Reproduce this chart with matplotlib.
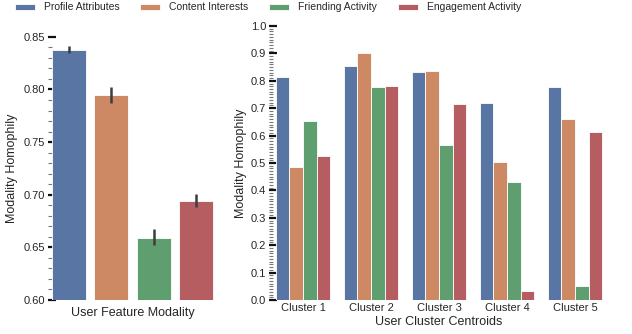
import colorsys
import numpy as np
import matplotlib
matplotlib.use("Agg")
import matplotlib.pyplot as plt
from matplotlib.ticker import MultipleLocator

plt.rcParams['font.family'] = ['Liberation Sans', 'DejaVu Sans']

modalities = ["Profile Attributes", "Content Interests",
              "Friending Activity", "Engagement Activity"]

# overall homophily per modality, with error bar bounds
overall = [0.837, 0.795, 0.659, 0.694]
overall_lo = [0.835, 0.787, 0.652, 0.688]
overall_hi = [0.841, 0.802, 0.667, 0.701]

clusters = ["Cluster 1", "Cluster 2", "Cluster 3", "Cluster 4", "Cluster 5"]
profile = [0.815, 0.855, 0.833, 0.719, 0.776]
content = [0.485, 0.903, 0.835, 0.505, 0.659]
friending = [0.653, 0.778, 0.567, 0.429, 0.052]
engagement = [0.527, 0.780, 0.716, 0.034, 0.614]
cluster_vals = [profile, content, friending, engagement]

deep = ["#4C72B0", "#DD8452", "#55A868", "#C44E52"]


def desat(hexcol, prop=0.75):
    r, g, b = matplotlib.colors.to_rgb(hexcol)
    h, l, s = colorsys.rgb_to_hls(r, g, b)
    return colorsys.hls_to_rgb(h, l, s * prop)


colors = [desat(c) for c in deep]
txt = "#262626"


def style_axis(ax, major, minor):
    for s in ax.spines.values():
        s.set_visible(False)
    ax.yaxis.set_major_locator(MultipleLocator(major))
    ax.yaxis.set_minor_locator(MultipleLocator(minor))
    ax.tick_params(axis="y", which="major", direction="in", length=5.5,
                   width=1.6, color="#111111", labelsize=8, labelcolor=txt, pad=2)
    ax.tick_params(axis="y", which="minor", direction="in", length=3,
                   width=0.8, color="#777777")
    ax.tick_params(axis="x", length=0, labelsize=8, labelcolor=txt, pad=2)


fig = plt.figure(figsize=(6.32, 3.34), dpi=100)

# left panel: overall homophily
ax1 = fig.add_axes([0.0756, 0.1018, 0.2685, 0.788])
x = np.arange(len(modalities))
ax1.bar(x, overall, width=0.8, color=colors, edgecolor="white",
        linewidth=0.6, zorder=3)
ax1.vlines(x, overall_lo, overall_hi, color="#3d3d3d", linewidth=1.8, zorder=4)
ax1.set_xlim(-0.5, len(modalities) - 0.5)
ax1.set_ylim(0.60, 0.85)
ax1.set_xticks([])
style_axis(ax1, 0.05, 0.01)
ax1.yaxis.set_major_formatter(matplotlib.ticker.FormatStrFormatter("%.2f"))
ax1.set_xlabel("User Feature Modality", fontsize=9, color=txt, labelpad=5)
ax1.set_ylabel("Modality Homophily", fontsize=9, color=txt, labelpad=4)

# right panel: per cluster centroid
ax2 = fig.add_axes([0.4256, 0.1018, 0.538, 0.8204])
xc = np.arange(len(clusters))
w = 0.2
for i, vals in enumerate(cluster_vals):
    ax2.bar(xc - 0.3 + i * w, vals, width=w, color=colors[i],
            edgecolor="white", linewidth=0.6, zorder=3, label=modalities[i])
ax2.set_xlim(-0.5, len(clusters) - 0.5)
ax2.set_ylim(0.0, 1.0)
ax2.set_xticks(xc)
ax2.set_xticklabels(clusters)
style_axis(ax2, 0.1, 0.01)
ax2.yaxis.set_major_formatter(matplotlib.ticker.FormatStrFormatter("%.1f"))
ax2.set_xlabel("User Cluster Centroids", fontsize=9, color=txt, labelpad=2)
ax2.set_ylabel("Modality Homophily", fontsize=9, color=txt, labelpad=3)

handles, labels = ax2.get_legend_handles_labels()
fig.legend(handles, labels, loc="center", ncol=4, frameon=False,
           bbox_to_anchor=(268 / 632, 1 - 7.5 / 334), fontsize=7.5,
           handlelength=1.92, handleheight=0.6, handletextpad=0.87,
           columnspacing=2.0, borderpad=0, labelcolor=txt)

fig.savefig("out.png", dpi=100)
